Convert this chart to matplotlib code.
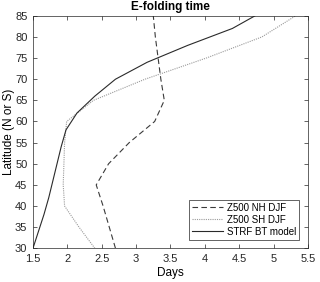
import numpy as np
import matplotlib
matplotlib.use("Agg")
from matplotlib import pyplot as plt

# E-folding time (days) vs latitude
lat_nh = [30, 35, 40, 45, 50, 55, 60, 65, 70, 75, 80, 85]
nh_djf = [2.70, 2.61, 2.52, 2.42, 2.60, 2.90, 3.27, 3.41, 3.36, 3.32, 3.28, 3.25]

lat_sh = [30, 35, 40, 45, 50, 55, 60, 65, 70, 75, 80, 85]
sh_djf = [2.40, 2.17, 1.96, 1.94, 1.95, 1.96, 1.99, 2.38, 3.13, 4.02, 4.83, 5.32]

lat_bt = [30, 34, 38, 42, 46, 50, 54, 58, 62, 66, 70, 74, 78, 82, 86]
strf_bt = [1.50, 1.58, 1.66, 1.73, 1.79, 1.85, 1.91, 1.98, 2.14, 2.40, 2.70,
           3.16, 3.75, 4.40, 4.84]

xticks = [1.5, 2, 2.5, 3, 3.5, 4, 4.5, 5, 5.5]
xticklabels = ['1.5', '2', '2.5', '3', '3.5', '4', '4.5', '5', '5.5']
yticks = [30, 35, 40, 45, 50, 55, 60, 65, 70, 75, 80, 85]

plt.rcParams['font.family'] = ['Liberation Sans', 'DejaVu Sans']

fig = plt.figure(figsize=(3.2, 2.82), dpi=100)
ax = fig.add_axes([0.103, 0.1195, 0.8595, 0.8245])

ax.plot(nh_djf, lat_nh, linestyle=(0, (5, 3)), color='#3a3a3a', lw=0.8,
        label='Z500 NH DJF')
ax.plot(sh_djf, lat_sh, linestyle=(0, (1, 1)), color='#9a9a9a', lw=0.8,
        label='Z500 SH DJF')
ax.plot(strf_bt, lat_bt, linestyle='-', color='#2a2a2a', lw=0.8,
        label='STRF BT model')

ax.set_xlim(1.5, 5.5)
ax.set_ylim(30, 85)
ax.set_xticks(xticks)
ax.set_xticklabels(xticklabels)
ax.set_yticks(yticks)
ax.tick_params(direction='in', top=True, right=True, length=3, width=0.5,
               labelsize=8, colors='#262626')
ax.tick_params(axis='x', pad=4)
ax.tick_params(axis='y', pad=4)
for s in ax.spines.values():
    s.set_linewidth(0.5)
    s.set_color('#262626')

ax.set_title('E-folding time', fontsize=8.5, fontweight='bold', pad=4)
ax.set_xlabel('Days', fontsize=8.5, labelpad=2)
ax.set_ylabel('Latitude (N or S)', fontsize=8.5)
ax.yaxis.set_label_coords(-0.067, 0.5)

leg = ax.legend(loc='lower right', fontsize=7, handlelength=3.2,
                borderaxespad=0.9, fancybox=False, edgecolor='#262626',
                framealpha=1, borderpad=0.3, labelspacing=0.2,
                handletextpad=0.4)
leg.get_frame().set_linewidth(0.5)

plt.savefig('out.png', dpi=100)
